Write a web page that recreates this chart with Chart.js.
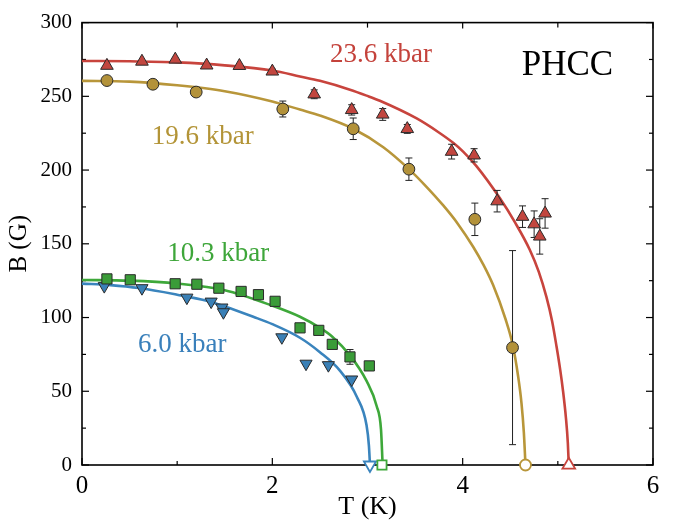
<!DOCTYPE html>
<html><head><meta charset="utf-8">
<script src="https://cdn.jsdelivr.net/npm/chart.js@4.4.1/dist/chart.umd.min.js"></script>
<style>html,body{margin:0;padding:0;background:#fff}#wrap{width:673px;height:523px}</style>
</head><body><div id="wrap"><canvas id="c" width="673" height="523"></canvas></div>
<script>
// ---- data ----
const redT   = [0.262, 0.63, 0.98, 1.31, 1.654, 2.0, 2.44, 2.834, 3.16, 3.418, 3.884, 4.12, 4.362, 4.629, 4.751, 4.81, 4.866];
const redB   = [270.8, 273.6, 275, 271, 270.7, 266.9, 251.4, 240.8, 237.7, 227.9, 212.5, 210, 178.9, 168.4, 163.3, 155, 170.6];
const redErr = [0, 0, 0, 0, 0, 1.5, 3, 3.5, 4, 3, 5, 4.5, 7.3, 7.3, 9, 12, 10];

const goldT   = [0.262, 0.745, 1.2, 2.11, 2.85, 3.435, 4.128, 4.524];
const goldB   = [260.7, 258.2, 252.9, 241.4, 228, 200.6, 166.6, 79.6];
const goldErr = [0, 2, 3, 5.4, 7.3, 7.6, 11, 65.8];

const greenT   = [0.262, 0.507, 0.979, 1.207, 1.438, 1.672, 1.854, 2.029, 2.291, 2.488, 2.63, 2.816, 3.019];
const greenB   = [126.2, 125.6, 122.9, 122.6, 119.9, 117.7, 115.5, 111, 93, 91.3, 81.8, 73.3, 67.2];
const greenErr = [0, 0, 0, 0, 0, 0, 0, 0, 0, 0, 0, 5, 0];

const blueT = [0.234, 0.63, 1.102, 1.357, 1.47, 1.486, 2.1, 2.354, 2.589, 2.834];
const blueB = [121.3, 119.9, 113.5, 110.8, 106.8, 103.6, 86.6, 68.7, 67.7, 58];

// fitted curves
const redFitT = [0, 0.5, 1.0, 1.5, 2.0, 2.29, 2.5, 2.816, 2.99, 3.13, 3.517, 3.75, 3.9, 4.005, 4.147, 4.39, 4.55, 4.705, 4.8, 4.88, 4.94, 4.986, 5.025, 5.055, 5.085, 5.105, 5.115];
const redFitB = [274, 273.8, 273, 271, 267.5, 263.5, 260.5, 254.5, 250.5, 247, 235, 225.5, 218.5, 212.5, 202.5, 181, 164.5, 146, 131, 114, 97.5, 80.5, 64.5, 50, 32, 15, 0];
const goldFitT = [0, 0.5, 1.0, 1.5, 2.0, 2.29, 2.5, 2.85, 3.166, 3.43, 3.6, 3.796, 3.95, 4.11, 4.22, 4.32, 4.45, 4.524, 4.583, 4.618, 4.643, 4.66];
const goldFitB = [260.5, 260, 257.5, 253.5, 246.5, 241, 237, 228, 215.5, 201, 190, 176, 163.5, 148, 135.5, 122, 99, 82, 60, 42, 22, 0];
const greenFitT = [0, 0.5, 1.0, 1.5, 2.0, 2.29, 2.5, 2.63, 2.82, 2.99, 3.096, 3.142, 3.159];
const greenFitB = [125.5, 125, 123, 118.5, 108, 100.5, 93, 87, 74, 57, 40, 24, 0];
const blueFitT = [0, 0.3, 0.6, 1.0, 1.3, 1.5, 1.8, 2.0, 2.29, 2.5, 2.71, 2.89, 2.99, 3.015, 3.026];
const blueFitB = [123, 122, 120, 115.5, 111.5, 107.5, 100.5, 95.5, 86.3, 76.5, 64, 46, 27, 13, 0];

// critical temperatures (open markers at B = 0)
const tcRed = 5.115, tcGold = 4.66, tcGreen = 3.152, tcBlue = 3.026;

const xTickValues = [0, 2, 4, 6];
const xMinorValues = [1, 3, 5];
const yTickValues = [0, 50, 100, 150, 200, 250, 300];
const yMinorValues = [25, 75, 125, 175, 225, 275];
const seriesNames = ['23.6 kbar', '19.6 kbar', '10.3 kbar', '6.0 kbar'];
const panelLabel = 'PHCC';

// ---- styling ----
const SERIF = "'Liberation Serif', 'Times New Roman', serif";
const C = {
  red:   {line: '#c8443d', fill: '#c2463f'},
  gold:  {line: '#b8963a', fill: '#b3923a'},
  green: {line: '#3ea83a', fill: '#3a9c38'},
  blue:  {line: '#3a84bd', fill: '#3a80b6'}
};
const pts = (xs, ys) => xs.map((x, i) => ({x, y: ys[i]}));

function curve(xs, ys, col) {
  return {type: 'scatter', data: pts(xs, ys), showLine: true, pointRadius: 0, borderColor: col, borderWidth: 2.6,
          cubicInterpolationMode: 'monotone', fill: false, order: 10, clip: false};
}
function markers(xs, ys, col, style, r, rot, err) {
  return {type: 'scatter', data: pts(xs, ys), pointStyle: style, pointRadius: r, pointRotation: rot || 0,
          backgroundColor: col, borderColor: '#2a2a2a', borderWidth: 1, showLine: false, order: 1, errors: err, clip: false};
}
function openMark(x, col, style, r, rot) {
  return {type: 'scatter', data: [{x, y: 0}], pointStyle: style, pointRadius: r, pointRotation: rot || 0,
          backgroundColor: '#ffffff', borderColor: col, borderWidth: 1.8, showLine: false, order: 0, clip: false};
}

const datasets = [
  curve(redFitT, redFitB, C.red.line),
  curve(goldFitT, goldFitB, C.gold.line),
  curve(greenFitT, greenFitB, C.green.line),
  curve(blueFitT, blueFitB, C.blue.line),
  markers(redT, redB, C.red.fill, 'triangle', 7.3, 0, redErr),
  markers(goldT, goldB, C.gold.fill, 'circle', 5.9, 0, goldErr),
  markers(greenT, greenB, C.green.fill, 'rect', 7.2, 0, greenErr),
  markers(blueT, blueB, C.blue.fill, 'triangle', 7, 180, null),
  openMark(tcRed, C.red.line, 'triangle', 7.3, 0),
  openMark(tcGold, C.gold.line, 'circle', 5.5, 0),
  openMark(tcGreen, C.green.line, 'rect', 6.5, 0),
  openMark(tcBlue, C.blue.line, 'triangle', 7, 180)
];

const textItems = [
  {text: seriesNames[0], x: 2.606, y: 273.1, color: '#c4423b', size: 27},
  {text: seriesNames[1], x: 0.732, y: 217.9, color: '#b39437', size: 27},
  {text: seriesNames[2], x: 0.896, y: 138.4, color: '#3ea63a', size: 27},
  {text: seriesNames[3], x: 0.588, y: 76.9, color: '#3a80bb', size: 27},
  {text: panelLabel, x: 4.62, y: 264.5, color: '#000000', size: 35}
];

const overlay = {
  id: 'overlay',
  beforeDatasetsDraw(chart) {
    const {ctx, chartArea: a, scales: {x, y}} = chart;
    ctx.save();
    ctx.strokeStyle = '#000';
    ctx.lineWidth = 1.2;
    const tick = (px, py, dx, dy) => { ctx.beginPath(); ctx.moveTo(px, py); ctx.lineTo(px + dx, py + dy); ctx.stroke(); };
    xTickValues.forEach(v => { const p = x.getPixelForValue(v); tick(p, a.bottom, 0, -7); tick(p, a.top, 0, 6); });
    xMinorValues.forEach(v => { const p = x.getPixelForValue(v); tick(p, a.bottom, 0, -4); tick(p, a.top, 0, 5); });
    yTickValues.forEach(v => { const p = y.getPixelForValue(v); tick(a.left, p, 7, 0); tick(a.right, p, -7, 0); });
    yMinorValues.forEach(v => { const p = y.getPixelForValue(v); tick(a.left, p, 4, 0); tick(a.right, p, -4, 0); });
    ctx.lineWidth = 1.6;
    ctx.strokeRect(a.left, a.top, a.right - a.left, a.bottom - a.top);
    ctx.restore();
  },
  beforeDatasetDraw(chart, args) {
    const ds = chart.data.datasets[args.index];
    if (!ds.errors) return;
    const {ctx, scales: {x, y}} = chart;
    ctx.save();
    ctx.strokeStyle = '#222';
    ctx.lineWidth = 1;
    ds.data.forEach((p, i) => {
      const e = ds.errors[i];
      if (!e) return;
      const px = x.getPixelForValue(p.x);
      const y1 = y.getPixelForValue(p.y - e), y2 = y.getPixelForValue(p.y + e);
      ctx.beginPath();
      ctx.moveTo(px, y1); ctx.lineTo(px, y2);
      ctx.moveTo(px - 3.5, y1); ctx.lineTo(px + 3.5, y1);
      ctx.moveTo(px - 3.5, y2); ctx.lineTo(px + 3.5, y2);
      ctx.stroke();
    });
    ctx.restore();
  },
  afterDraw(chart) {
    const {ctx, scales: {x, y}} = chart;
    ctx.save();
    ctx.textAlign = 'left';
    ctx.textBaseline = 'alphabetic';
    textItems.forEach(t => {
      ctx.font = t.size + 'px ' + SERIF;
      ctx.fillStyle = t.color;
      ctx.fillText(t.text, x.getPixelForValue(t.x), y.getPixelForValue(t.y));
    });
    ctx.restore();
  }
};

new Chart(document.getElementById('c'), {
  type: 'scatter',
  data: {datasets},
  options: {
    responsive: false,
    devicePixelRatio: 1,
    animation: false,
    events: [],
    layout: {padding: {top: 19, right: 20, left: 0, bottom: 0}},
    plugins: {legend: {display: false}, tooltip: {enabled: false}},
    scales: {
      x: {
        type: 'linear', min: 0, max: 6,
        ticks: {stepSize: 2, color: '#000', font: {family: SERIF, size: 25}, padding: 6, maxRotation: 0, autoSkip: false},
        grid: {display: false, drawTicks: false},
        border: {display: false},
        title: {display: true, text: 'T (K)', color: '#000', font: {family: SERIF, size: 26}, padding: {top: 0, bottom: 0}},
        afterFit(s) { s.height = 58; }
      },
      y: {
        type: 'linear', min: 0, max: 300,
        ticks: {stepSize: 50, color: '#000', font: {family: SERIF, size: 21}, padding: 10, autoSkip: false},
        grid: {display: false, drawTicks: false},
        border: {display: false},
        title: {display: true, text: 'B (G)', color: '#000', font: {family: SERIF, size: 25}, padding: {top: 4, bottom: 0}},
        afterFit(s) { s.width = 82; }
      }
    }
  },
  plugins: [overlay]
});
</script></body></html>
